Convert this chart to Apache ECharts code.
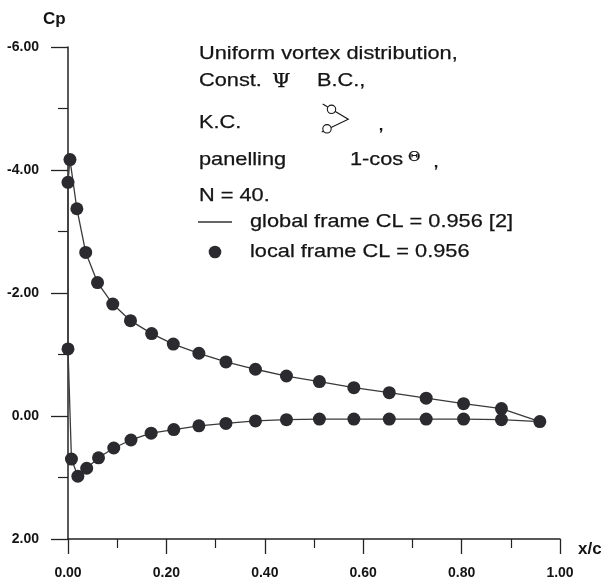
<!DOCTYPE html>
<html>
<head>
<meta charset="utf-8">
<script src="https://cdn.jsdelivr.net/npm/echarts@6/dist/echarts.min.js"></script>
<style>
html,body{margin:0;padding:0;background:#fff;}
#c{width:607px;height:585px;}
</style>
</head>
<body>
<div id="c"></div>
<script>
// Upper surface, from trailing edge to leading edge
var upperX  = [0.959, 0.881, 0.804, 0.728, 0.653, 0.581, 0.511, 0.444, 0.381, 0.321, 0.266, 0.214, 0.170, 0.127, 0.091, 0.060, 0.036, 0.018, 0.004, 0.000];
var upperCp = [0.09, -0.12, -0.20, -0.29, -0.38, -0.46, -0.56, -0.65, -0.76, -0.88, -1.02, -1.17, -1.34, -1.55, -1.82, -2.17, -2.66, -3.37, -4.17, -3.80];
// Lower surface, from leading edge to trailing edge
var lowerX  = [0.000, 0.007, 0.020, 0.038, 0.062, 0.093, 0.128, 0.169, 0.215, 0.266, 0.321, 0.381, 0.444, 0.511, 0.581, 0.653, 0.728, 0.804, 0.881, 0.959];
var lowerCp = [-1.09, 0.70, 0.98, 0.85, 0.68, 0.52, 0.39, 0.28, 0.22, 0.16, 0.12, 0.08, 0.06, 0.05, 0.05, 0.05, 0.05, 0.05, 0.06, 0.09];

var xTicks = [0, 0.2, 0.4, 0.6, 0.8, 1.0];
var yTicks = [-6, -4, -2, 0, 2];

var annotationLines = [
  "Uniform vortex distribution,",
  "Const.", "B.C.,",
  "K.C.",
  "panelling", "1-cos",
  "N = 40."
];
var legendGlobal = "global frame CL = 0.956 [2]";
var legendLocal = "local frame CL = 0.956";

var loop = [];
for (var i = 0; i < upperX.length; i++) loop.push([upperX[i], upperCp[i]]);
for (var j = 0; j < lowerX.length; j++) loop.push([lowerX[j], lowerCp[j]]);
var dots = [];
for (var i2 = 0; i2 < upperX.length; i2++) dots.push([upperX[i2], upperCp[i2]]);
for (var j2 = 0; j2 < lowerX.length - 1; j2++) dots.push([lowerX[j2], lowerCp[j2]]);

var TXT = '#141414';
var SX = 1.17;
function t(str, x, y, size, extra) {
  var el = {
    type: 'text', x: x, y: y, scaleX: SX, silent: true,
    style: { x: 0, y: 0, text: str, fill: TXT, fontFamily: 'Liberation Sans, Arial, sans-serif',
             fontSize: size || 18.6, textVerticalAlign: 'middle', textAlign: 'left',
             stroke: TXT, lineWidth: 0.25 }
  };
  if (extra) for (var k in extra) el.style[k] = extra[k];
  return el;
}

var chart = echarts.init(document.getElementById('c'));
chart.setOption({
  animation: false,
  backgroundColor: '#fff',
  grid: { left: 68, right: 47, top: 47, bottom: 46, containLabel: false },
  xAxis: {
    type: 'value', min: xTicks[0], max: xTicks[xTicks.length - 1], interval: 0.2,
    axisLine: { onZero: false, lineStyle: { color: '#222', width: 1.5 } },
    axisTick: { inside: false, length: 15, lineStyle: { color: '#222', width: 1.3 } },
    minorTick: { show: true, splitNumber: 2, length: 9, lineStyle: { color: '#222', width: 1.2 } },
    splitLine: { show: false },
    axisLabel: { margin: 27, color: '#141414', fontFamily: 'Liberation Sans, Arial, sans-serif', fontWeight: 'bold', fontSize: 14,
                 formatter: function (v) { return v.toFixed(2); } }
  },
  yAxis: {
    type: 'value', inverse: true, min: yTicks[0], max: yTicks[yTicks.length - 1], interval: 2,
    axisLine: { onZero: false, lineStyle: { color: '#222', width: 1.5 } },
    axisTick: { inside: false, length: 17, lineStyle: { color: '#222', width: 1.3 } },
    minorTick: { show: true, splitNumber: 2, length: 10, lineStyle: { color: '#222', width: 1.2 } },
    splitLine: { show: false },
    axisLabel: { margin: 29, color: '#141414', fontFamily: 'Liberation Sans, Arial, sans-serif', fontWeight: 'bold', fontSize: 14,
                 formatter: function (v) { return v.toFixed(2); } }
  },
  series: [
    { type: 'line', data: loop, showSymbol: false, symbol: 'none', smooth: false,
      lineStyle: { color: '#3a3a3a', width: 1.3 }, z: 2 },
    { type: 'scatter', data: dots, symbol: 'circle', symbolSize: 13,
      itemStyle: { color: '#2a2a2f', opacity: 1 }, z: 3 }
  ],
  graphic: [
    { type: 'text', x: 43, y: 19, silent: true,
      style: { text: 'Cp', fill: TXT, fontFamily: 'Liberation Sans, Arial, sans-serif', fontWeight: 'bold', fontSize: 17, textVerticalAlign: 'middle' } },
    { type: 'text', x: 578, y: 549, silent: true,
      style: { text: 'x/c', fill: TXT, fontFamily: 'Liberation Sans, Arial, sans-serif', fontWeight: 'bold', fontSize: 17, textVerticalAlign: 'middle' } },
    t(annotationLines[0], 199, 54),
    t(annotationLines[1], 199, 81),
    t('\u03A8', 272, 82, 18, { fontFamily: 'DejaVu Serif' }),
    t(annotationLines[2], 317, 81),
    t(annotationLines[3], 199, 123),
    { type: 'polyline', silent: true, shape: { points: [[322.7, 104], [348.3, 119.3], [321.7, 132]] },
      style: { stroke: TXT, lineWidth: 1.1, fill: null } },
    { type: 'circle', silent: true, shape: { cx: 331.5, cy: 109.3, r: 4.2 }, style: { stroke: TXT, lineWidth: 1.1, fill: '#fff' } },
    { type: 'circle', silent: true, shape: { cx: 327, cy: 128.8, r: 4.2 }, style: { stroke: TXT, lineWidth: 1.1, fill: '#fff' } },
    t(',', 378, 125),
    t(annotationLines[4], 199, 160),
    t(annotationLines[5], 350, 160),
    t('\u0398', 408, 158, 13, { fontFamily: 'DejaVu Serif' }),
    t(',', 433, 162),
    t(annotationLines[6], 199, 196),
    { type: 'line', silent: true, shape: { x1: 198, y1: 222, x2: 232, y2: 222 }, style: { stroke: '#333', lineWidth: 1.3 } },
    t(legendGlobal, 250, 222),
    { type: 'circle', silent: true, shape: { cx: 215, cy: 252, r: 6.3 }, style: { fill: '#2a2a2f' } },
    t(legendLocal, 250, 252)
  ]
});
</script>
</body>
</html>
